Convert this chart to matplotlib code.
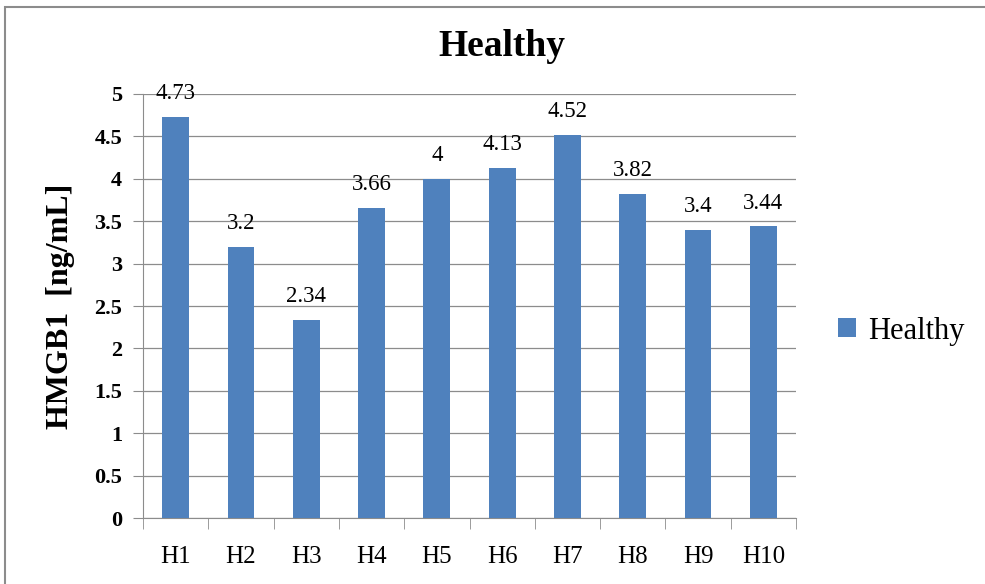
import matplotlib.pyplot as plt
from matplotlib.patches import Rectangle

# HMGB1 levels for healthy donors
samples = ['H1', 'H2', 'H3', 'H4', 'H5', 'H6', 'H7', 'H8', 'H9', 'H10']
hmgb1 = [4.73, 3.2, 2.34, 3.66, 4, 4.13, 4.52, 3.82, 3.4, 3.44]
yticks = [0, 0.5, 1, 1.5, 2, 2.5, 3, 3.5, 4, 4.5, 5]

plt.rcParams['font.family'] = ['Liberation Serif', 'DejaVu Serif']

fig = plt.figure(figsize=(9.85, 5.84), dpi=100)
fig.patches.append(Rectangle((5 / 985, -0.01), 1.0, 1 - 7 / 584 + 0.01,
                             transform=fig.transFigure, fill=False,
                             edgecolor='#8c8c8c', linewidth=1.5))

ax = fig.add_axes([143 / 985, 1 - 518 / 584, (796 - 143) / 985, (518 - 94) / 584])
x = list(range(len(samples)))
bars = ax.bar(x, hmgb1, width=0.41, color='#4f81bd', label='Healthy', zorder=3)

# value labels sit a little above each bar
for xi, v in zip(x, hmgb1):
    ax.text(xi, v + 0.15, f'{v:g}', ha='center', va='bottom', fontsize=16.5,
            zorder=4, clip_on=False)

ax.set_xlim(-0.5, len(samples) - 0.5)
ax.set_ylim(0, 5)
ax.set_yticks(yticks)
ax.set_yticklabels([f'{t:g}' for t in yticks], fontsize=16, fontweight='bold')
ax.yaxis.grid(True, color='#8c8c8c', linewidth=0.9, zorder=0)
ax.tick_params(axis='y', length=7, color='#8c8c8c', pad=8)

ax.set_xticks(x)
ax.set_xticklabels(samples, fontsize=18)
ax.set_xticks([i - 0.5 for i in range(len(samples) + 1)], minor=True)
ax.tick_params(axis='x', which='major', length=0, pad=20)
ax.tick_params(axis='x', which='minor', length=8, color='#8c8c8c')

for side in ['top', 'right']:
    ax.spines[side].set_visible(False)
for side in ['left', 'bottom']:
    ax.spines[side].set_color('#8c8c8c')

ax.set_ylabel('HMGB1  [ng/mL]', fontsize=23, fontweight='bold', labelpad=14)
fig.text(502 / 985, 1 - 46 / 584, 'Healthy', ha='center', va='center',
         fontsize=27, fontweight='bold')

fig.legend(handles=[bars], labels=['Healthy'], loc='center left',
           bbox_to_anchor=(838 / 985, 1 - 331 / 584), frameon=False,
           fontsize=22, handlelength=0.6, handleheight=0.6, handletextpad=0.4,
           borderpad=0, borderaxespad=0)

fig.savefig('out.png', dpi=100)
